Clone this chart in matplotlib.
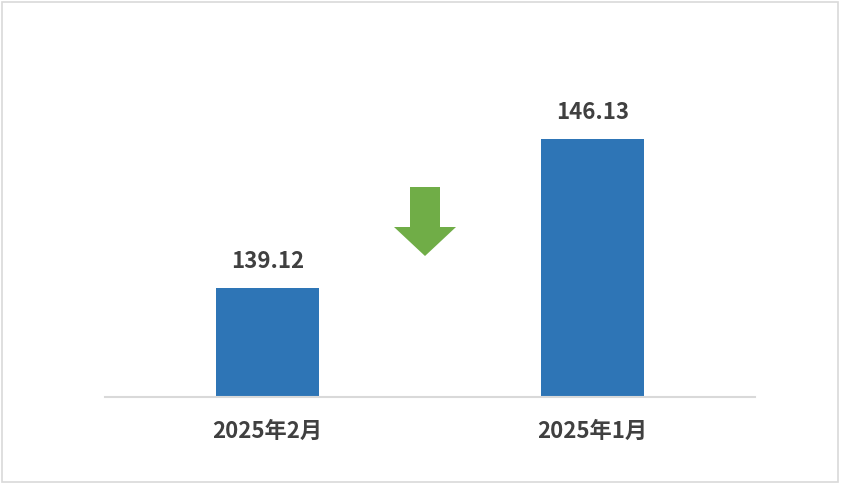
import matplotlib
matplotlib.use('Agg')
from matplotlib import pyplot as plt
from matplotlib.patches import Polygon, Rectangle

plt.rcParams['font.family'] = ['Noto Sans CJK SC', 'DejaVu Sans']

months = ['2025年2月', '2025年1月']
values = [139.12, 146.13]

BAR_COLOR = '#2E75B6'
TEXT_COLOR = '#404040'

fig = plt.figure(figsize=(8.41, 4.85), dpi=100)
W, H = 841, 485

# frame around the whole chart
fig.patches.append(Rectangle((2 / W, 2 / H), 836 / W, 480 / H, transform=fig.transFigure,
                             fill=False, edgecolor='#d9d9d9', linewidth=1.2))

ax = fig.add_axes([105 / W, (H - 398) / H, 650 / W, (398 - 37) / H])
x = range(len(months))
bars = ax.bar(x, values, width=0.314, color=BAR_COLOR)
ax.set_xlim(-0.5, 1.5)
ax.set_ylim(134, 151)

for b, v in zip(bars, values):
    ax.annotate('{:.2f}'.format(v), (b.get_x() + b.get_width() / 2, v),
                xytext=(0, 20), textcoords='offset points', ha='center', va='center',
                fontsize=16, fontweight='bold', color=TEXT_COLOR)

ax.set_xticks(list(x))
ax.set_xticklabels(months, fontsize=16, fontweight='bold', color=TEXT_COLOR)
ax.tick_params(axis='x', length=0, pad=16)
ax.set_yticks([])
for s in ['top', 'right', 'left']:
    ax.spines[s].set_visible(False)
ax.spines['bottom'].set_color('#d9d9d9')
ax.spines['bottom'].set_linewidth(1.5)

# green down arrow between the bars
pts = [(410, 188), (440, 188), (440, 228), (456, 228), (425, 257), (394, 228), (410, 228)]
arrow = Polygon([(px / W, (H - py) / H) for px, py in pts], closed=True,
                transform=fig.transFigure, facecolor='#70AD47', edgecolor='none')
fig.patches.append(arrow)

fig.savefig('out.png', dpi=100, facecolor='white')
